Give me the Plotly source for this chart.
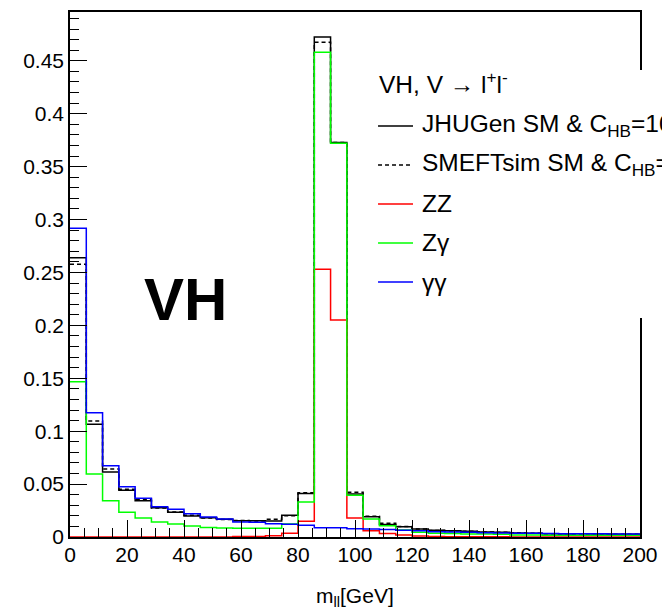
import numpy as np
import plotly.graph_objects as go

# Dilepton invariant mass, 35 equal bins between 0 and 200 GeV
x_min, x_max, n_bins = 0.0, 200.0, 35
edges = np.linspace(x_min, x_max, n_bins + 1)

jhugen = [0.2640, 0.1065, 0.0614, 0.0441, 0.0343, 0.0277, 0.0233, 0.0199, 0.0183,
          0.0168, 0.0154, 0.0154, 0.0151, 0.0205, 0.0410, 0.4725, 0.3728, 0.0407,
          0.0192, 0.0117, 0.0097, 0.0076, 0.0063, 0.0058, 0.0054, 0.0047, 0.0045,
          0.0037, 0.0035, 0.0030, 0.0028, 0.0030, 0.0028, 0.0027, 0.0027]
smeftsim = [0.2578, 0.1097, 0.0643, 0.0451, 0.0356, 0.0275, 0.0237, 0.0205, 0.0180,
            0.0166, 0.0155, 0.0152, 0.0167, 0.0200, 0.0417, 0.4676, 0.3728, 0.0422,
            0.0195, 0.0130, 0.0100, 0.0076, 0.0062, 0.0057, 0.0055, 0.0048, 0.0045,
            0.0040, 0.0036, 0.0030, 0.0029, 0.0029, 0.0028, 0.0027, 0.0027]
zz = [0.0, 0.0, 0.0, 0.0, 0.0, 0.0, 0.0, 0.0, 0.0,
      0.0, 0.0004, 0.0004, 0.0012, 0.0035, 0.0150, 0.2530, 0.2050, 0.0180,
      0.0060, 0.0033, 0.0019, 0.0009, 0.0004, 0.0003, 0.0003, 0.0003, 0.0003,
      0.0, 0.0, 0.0, 0.0, 0.0, 0.0, 0.0, 0.0]
zgamma = [0.1468, 0.0596, 0.0343, 0.0233, 0.0180, 0.0142, 0.0124, 0.0105, 0.0090,
          0.0084, 0.0082, 0.0082, 0.0082, 0.0123, 0.0330, 0.4580, 0.3720, 0.0395,
          0.0170, 0.0107, 0.0066, 0.0044, 0.0035, 0.0033, 0.0028, 0.0028, 0.0027,
          0.0019, 0.0019, 0.0017, 0.0017, 0.0017, 0.0017, 0.0017, 0.0017]
gammagamma = [0.2918, 0.1175, 0.0674, 0.0476, 0.0366, 0.0287, 0.0262, 0.0220, 0.0189,
              0.0170, 0.0142, 0.0140, 0.0125, 0.0120, 0.0110, 0.0088, 0.0088, 0.0078,
              0.0076, 0.0072, 0.0063, 0.0060, 0.0050, 0.0047, 0.0044, 0.0041, 0.0038,
              0.0036, 0.0035, 0.0033, 0.0031, 0.0030, 0.0030, 0.0029, 0.0028]

x_tick_vals = [0, 20, 40, 60, 80, 100, 120, 140, 160, 180, 200]
x_tick_text = ["0", "20", "40", "60", "80", "100", "120", "140", "160", "180", "200"]
y_tick_vals = [0, 0.05, 0.1, 0.15, 0.2, 0.25, 0.3, 0.35, 0.4, 0.45]
y_tick_text = ["0", "0.05", "0.1", "0.15", "0.2", "0.25", "0.3", "0.35", "0.4", "0.45"]

header = "VH, V \u2192 l<sup>+</sup>l<sup>-</sup>"
series = [
    ("JHUGen SM & C<sub>HB</sub>=10", jhugen, "#000000", "solid"),
    ("SMEFTsim SM & C<sub>HB</sub>=10", smeftsim, "#000000", "4px,3px"),
    ("ZZ", zz, "#ff0000", "solid"),
    ("Z\u03b3", zgamma, "#00ff00", "solid"),
    ("\u03b3\u03b3", gammagamma, "#0000ff", "solid"),
]

FONT = "Liberation Sans, Arial, Helvetica, sans-serif"
y_top = 1.05 * max(jhugen)

fig = go.Figure()
for name, vals, color, dash in series:
    # step outline: each bin drawn flat from its low edge to its high edge
    ys = list(vals) + [vals[-1]]
    fig.add_trace(go.Scatter(
        x=edges, y=ys, mode="lines", name=name,
        line=dict(color=color, width=1.5, dash=dash, shape="hv"),
        showlegend=False, hoverinfo="skip",
    ))

axis_common = dict(
    showline=True, linecolor="#000000", linewidth=1.5, mirror=True,
    ticks="inside", ticklen=17, tickwidth=1, tickcolor="#000000",
    showgrid=False, zeroline=False, automargin=False,
    tickfont=dict(family=FONT, size=21, color="#000000"),
)

fig.update_xaxes(
    range=[x_min, x_max], tickmode="array", tickvals=x_tick_vals, ticktext=x_tick_text,
    minor=dict(dtick=5, ticks="inside", ticklen=9, tickcolor="#000000", tickwidth=1, showgrid=False),
    ticklabelstandoff=-2,
    **axis_common,
)
fig.update_yaxes(
    range=[0, y_top], tickmode="array", tickvals=y_tick_vals, ticktext=y_tick_text,
    minor=dict(dtick=0.01, ticks="inside", ticklen=9, tickcolor="#000000", tickwidth=1, showgrid=False),
    **axis_common,
)

# legend panel (white box drawn over the frame)
row_y = [0.7829, 0.7086, 0.6343, 0.5600, 0.4857]
fig.add_shape(type="rect", xref="paper", yref="paper",
              x0=0.517, x1=1.06, y0=0.417, y1=0.8895,
              fillcolor="white", line=dict(width=0), layer="above")
fig.add_annotation(x=0.5386, y=0.865, xref="paper", yref="paper", text=header,
                   showarrow=False, xanchor="left", yanchor="middle",
                   font=dict(family=FONT, size=24.5, color="#000000"))
for (name, vals, color, dash), ry in zip(series, row_y):
    fig.add_shape(type="line", xref="paper", yref="paper",
                  x0=0.5404, x1=0.6018, y0=ry, y1=ry,
                  line=dict(color=color, width=1.5, dash=dash), layer="above")
    fig.add_annotation(x=0.614, y=ry, xref="paper", yref="paper", text=name,
                       showarrow=False, xanchor="left", yanchor="middle",
                       font=dict(family=FONT, size=24.5, color="#000000"))

# process label
fig.add_annotation(x=40.4, y=0.224, xref="x", yref="y", text="<b>VH</b>",
                   showarrow=False, xanchor="center", yanchor="middle",
                   font=dict(family=FONT, size=60, color="#000000"))

# x-axis title
fig.add_annotation(x=0.5, y=-0.114, xref="paper", yref="paper",
                   text="m<sub>ll</sub>[GeV]", showarrow=False,
                   xanchor="center", yanchor="middle",
                   font=dict(family=FONT, size=21, color="#000000"))

fig.update_layout(
    width=662, height=611,
    margin=dict(l=70, r=22, t=12, b=74),
    paper_bgcolor="white", plot_bgcolor="white",
    showlegend=False,
)

fig.write_html("out.html")
